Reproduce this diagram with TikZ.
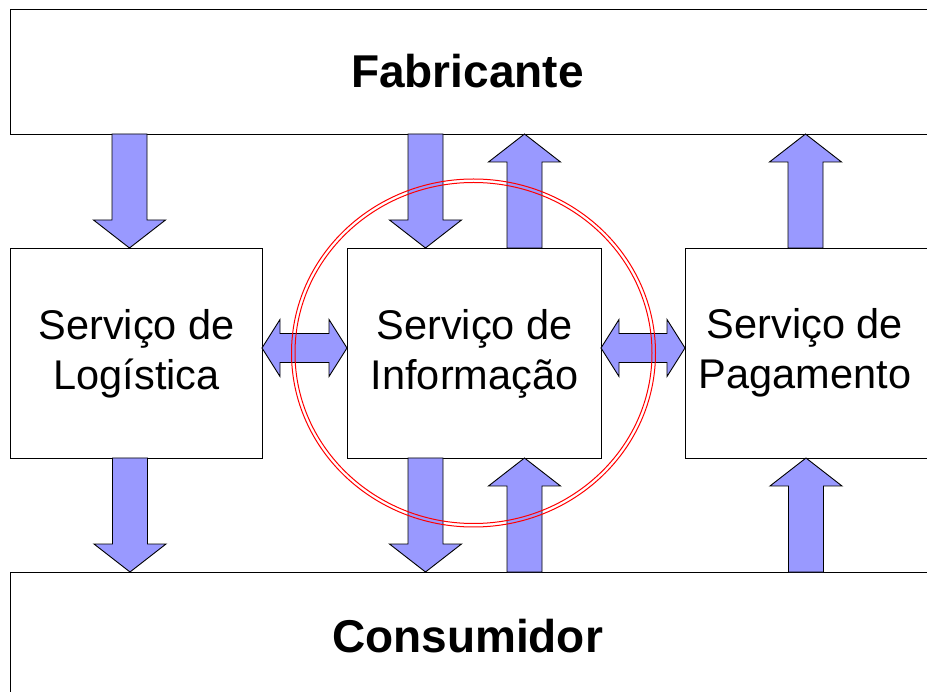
\documentclass[tikz,border=0pt]{standalone}
\usepackage{fontspec}
\setmainfont{Liberation Sans}
\begin{document}
\begin{tikzpicture}[x=1pt,y=-1pt,
  box/.style={draw=black, line width=1.2pt, fill=white, inner sep=0pt, anchor=north west},
  bigtxt/.style={font=\fontsize{46}{50}\selectfont\bfseries},
  svctxt/.style={font=\fontsize{41.5}{50}\selectfont, align=center},
  blockarrow/.style={draw=black, line width=0.9pt, fill=arrowblue, line join=miter},
  ring/.style={draw=red, line width=1pt}
]
\definecolor{arrowblue}{HTML}{9999FF}
\useasboundingbox (0,0) rectangle (927,692);
\fill[white] (0,0) rectangle (927,692);

% boxes
\node[box, minimum width=920, minimum height=125] (fab) at (10,9) {};
\node[box, minimum width=252, minimum height=210] (log) at (10,248) {};
\node[box, minimum width=254, minimum height=210] (info) at (347,248) {};
\node[box, minimum width=245, minimum height=210] (pag) at (685,248) {};
\node[box, minimum width=920, minimum height=140] (con) at (10,572) {};

% texts
\node[bigtxt] (fabt) at (467.5,71.5) {Fabricante};
\node[bigtxt] (cont) at (467.5,636) {Consumidor};
\node[svctxt] (logt) at (log.center) {Serviço de\\Logística};
\node[svctxt] (infot) at (info.center) {Serviço de\\Informação};
\node[svctxt] (pagt) at (805,353) {Serviço de\\Pagamento};

% vertical block arrows: #1 = x centre, #2 = y start, #3 = y tip
\newcommand{\vblock}[3]{%
  \pgfmathsetmacro{\hb}{#3>#2 ? #3-28 : #3+28}%
  \draw[blockarrow] (#1-17.5,#2) -- (#1-17.5,\hb) -- (#1-36,\hb) -- (#1,#3)
    -- (#1+36,\hb) -- (#1+17.5,\hb) -- (#1+17.5,#2) -- cycle;}
% horizontal double block arrows: #1 = x left tip, #2 = x right tip, #3 = y centre
\newcommand{\hdblock}[3]{%
  \draw[blockarrow] (#1,#3) -- (#1+18,#3-28.5) -- (#1+18,#3-14.5) -- (#2-18,#3-14.5)
    -- (#2-18,#3-28.5) -- (#2,#3) -- (#2-18,#3+28.5) -- (#2-18,#3+14.5)
    -- (#1+18,#3+14.5) -- (#1+18,#3+28.5) -- cycle;}

\vblock{129.5}{134}{248}
\vblock{425.5}{134}{248}
\vblock{524.5}{248}{134}
\vblock{805.5}{248}{134}
\vblock{130}{458}{572}
\vblock{425.5}{458}{572}
\vblock{524.5}{572}{458}
\vblock{806}{572}{458}

\hdblock{262}{347}{348}
\hdblock{601}{685}{348}

% red double ring
\draw[ring] (473.5,353) ellipse [x radius=182, y radius=174];
\draw[ring] (473.5,353) ellipse [x radius=178.5, y radius=170.5];
\end{tikzpicture}
\end{document}
